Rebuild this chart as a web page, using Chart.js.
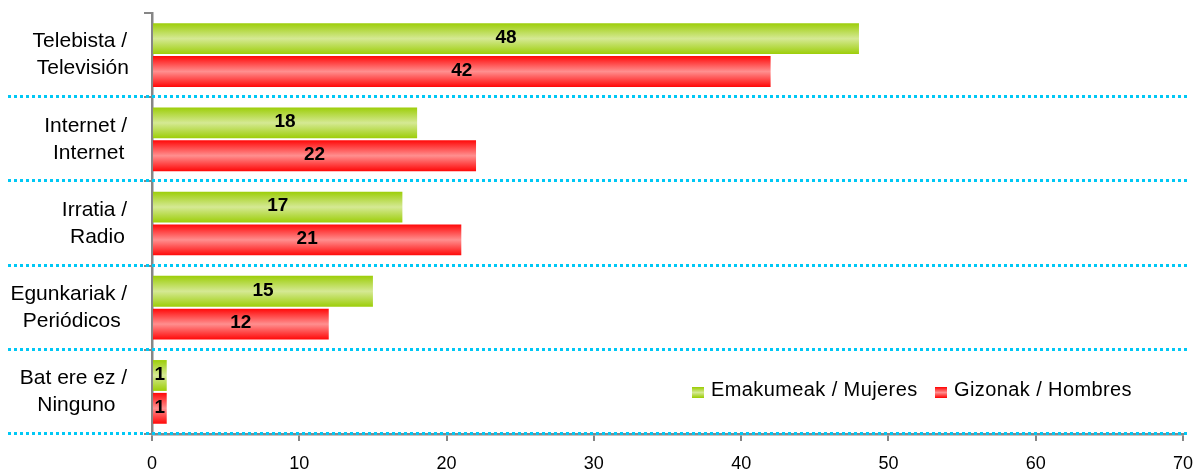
<!DOCTYPE html>
<html>
<head>
<meta charset="utf-8">
<script src="https://cdn.jsdelivr.net/npm/chart.js@4/dist/chart.umd.min.js"></script>
<style>
  html, body { margin: 0; padding: 0; background: #fff; }
  #wrap { width: 1196px; height: 471px; }
</style>
</head>
<body>
<div id="wrap"><canvas id="chart" width="1196" height="471"></canvas></div>
<script>
const categories = [
  ['Telebista / ', 'Televisión'],
  ['Internet / ', 'Internet'],
  ['Irratia / ', 'Radio'],
  ['Egunkariak / ', 'Periódicos'],
  ['Bat ere ez / ', 'Ninguno'],
];
const mujeres = [48, 18, 17, 15, 1];
const hombres = [42, 22, 21, 12, 1];
const seriesLabels = ['Emakumeak / Mujeres', 'Gizonak / Hombres'];
const xMin = 0;
const xMax = 70;
const xStep = 10;

const FONT = '"Liberation Sans", Arial, sans-serif';
const AXIS_GREY = '#868686';
const CAT_PCT = 0.78;
const BAR_PCT = 0.94;

const colours = [
  { edge: '#99cc00', mid: '#d5e994' },
  { edge: '#ff0000', mid: '#ff8f8f' },
];

const makeGradient = (ctx, top, bottom, c) => {
  const g = ctx.createLinearGradient(0, top, 0, bottom);
  g.addColorStop(0, c.edge);
  g.addColorStop(0.5, c.mid);
  g.addColorStop(1, c.edge);
  return g;
};

const barFill = context => {
  const chart = context.chart;
  const c = colours[context.datasetIndex];
  const y = chart.scales.y;
  if (!chart.chartArea || !y) return c.edge;
  const band = y.height / categories.length;
  const slot = band * CAT_PCT / 2;
  const center = y.getPixelForValue(context.dataIndex);
  const top = center - slot + context.datasetIndex * slot;
  return makeGradient(chart.ctx, top, top + slot, c);
};

const extras = {
  id: 'extras',
  afterDraw(chart) {
    const ctx = chart.ctx;
    const y = chart.scales.y;
    const band = y.height / categories.length;

    // dotted separators
    ctx.save();
    ctx.strokeStyle = '#00c8f5';
    ctx.lineWidth = 3;
    ctx.setLineDash([3, 3]);
    for (let i = 1; i <= categories.length; i++) {
      const yb = Math.round(y.top + band * i) - 0.5;
      ctx.beginPath();
      ctx.moveTo(8, yb);
      ctx.lineTo(1190, yb);
      ctx.stroke();
    }
    ctx.restore();

    // category labels, centred on their widest line
    ctx.save();
    ctx.font = '21px ' + FONT;
    ctx.fillStyle = '#000';
    ctx.textAlign = 'center';
    ctx.textBaseline = 'middle';
    categories.forEach((lines, i) => {
      const maxW = Math.max(...lines.map(l => ctx.measureText(l).width));
      const cx = 133 - maxW / 2;
      const cy = y.getPixelForValue(i);
      lines.forEach((l, j) => {
        ctx.fillText(l, cx, cy + (j - (lines.length - 1) / 2) * 27);
      });
    });
    ctx.restore();

    // value labels
    ctx.save();
    ctx.font = 'bold 19px ' + FONT;
    ctx.fillStyle = '#000';
    ctx.textAlign = 'center';
    ctx.textBaseline = 'middle';
    chart.data.datasets.forEach((ds, di) => {
      chart.getDatasetMeta(di).data.forEach((bar, i) => {
        const x = (bar.base + bar.x) / 2;
        ctx.fillText(String(ds.data[i]), x, bar.y - 1);
      });
    });
    ctx.restore();

    // legend
    ctx.save();
    ctx.font = '20px ' + FONT;
    ctx.letterSpacing = '0.4px';
    ctx.fillStyle = '#000';
    ctx.textBaseline = 'middle';
    const items = [{ box: 692, text: 711 }, { box: 935, text: 954 }];
    chart.data.datasets.forEach((ds, di) => {
      const it = items[di];
      ctx.fillStyle = makeGradient(ctx, 387, 398, colours[di]);
      ctx.fillRect(it.box, 387, 12, 11);
      ctx.fillStyle = '#000';
      ctx.fillText(ds.label, it.text, 390.5);
    });
    ctx.restore();
  },
};

new Chart(document.getElementById('chart'), {
  type: 'bar',
  data: {
    labels: categories,
    datasets: [
      {
        label: seriesLabels[0],
        data: mujeres,
        backgroundColor: barFill,
        categoryPercentage: CAT_PCT,
        barPercentage: BAR_PCT,
      },
      {
        label: seriesLabels[1],
        data: hombres,
        backgroundColor: barFill,
        categoryPercentage: CAT_PCT,
        barPercentage: BAR_PCT,
      },
    ],
  },
  options: {
    indexAxis: 'y',
    responsive: false,
    animation: false,
    layout: { padding: { top: 13, right: 13, left: 0, bottom: 0 } },
    plugins: {
      legend: { display: false },
      tooltip: { enabled: false },
    },
    scales: {
      x: {
        min: xMin,
        max: xMax,
        ticks: {
          stepSize: xStep,
          color: '#000',
          font: { family: FONT, size: 18 },
          padding: 12,
        },
        grid: {
          drawOnChartArea: false,
          drawTicks: true,
          tickLength: 7,
          color: AXIS_GREY,
          lineWidth: 2,
        },
        border: { display: true, color: AXIS_GREY, width: 2.5 },
        afterFit: scale => {
          scale.height = 37;
          scale.paddingLeft = 0;
          scale.paddingRight = 0;
        },
      },
      y: {
        ticks: { display: false },
        grid: {
          offset: true,
          drawOnChartArea: false,
          drawTicks: true,
          tickLength: 8,
          color: AXIS_GREY,
          lineWidth: 2,
        },
        border: { display: true, color: AXIS_GREY, width: 2.5 },
        afterFit: scale => { scale.width = 152; },
      },
    },
  },
  plugins: [extras],
});
</script>
</body>
</html>
